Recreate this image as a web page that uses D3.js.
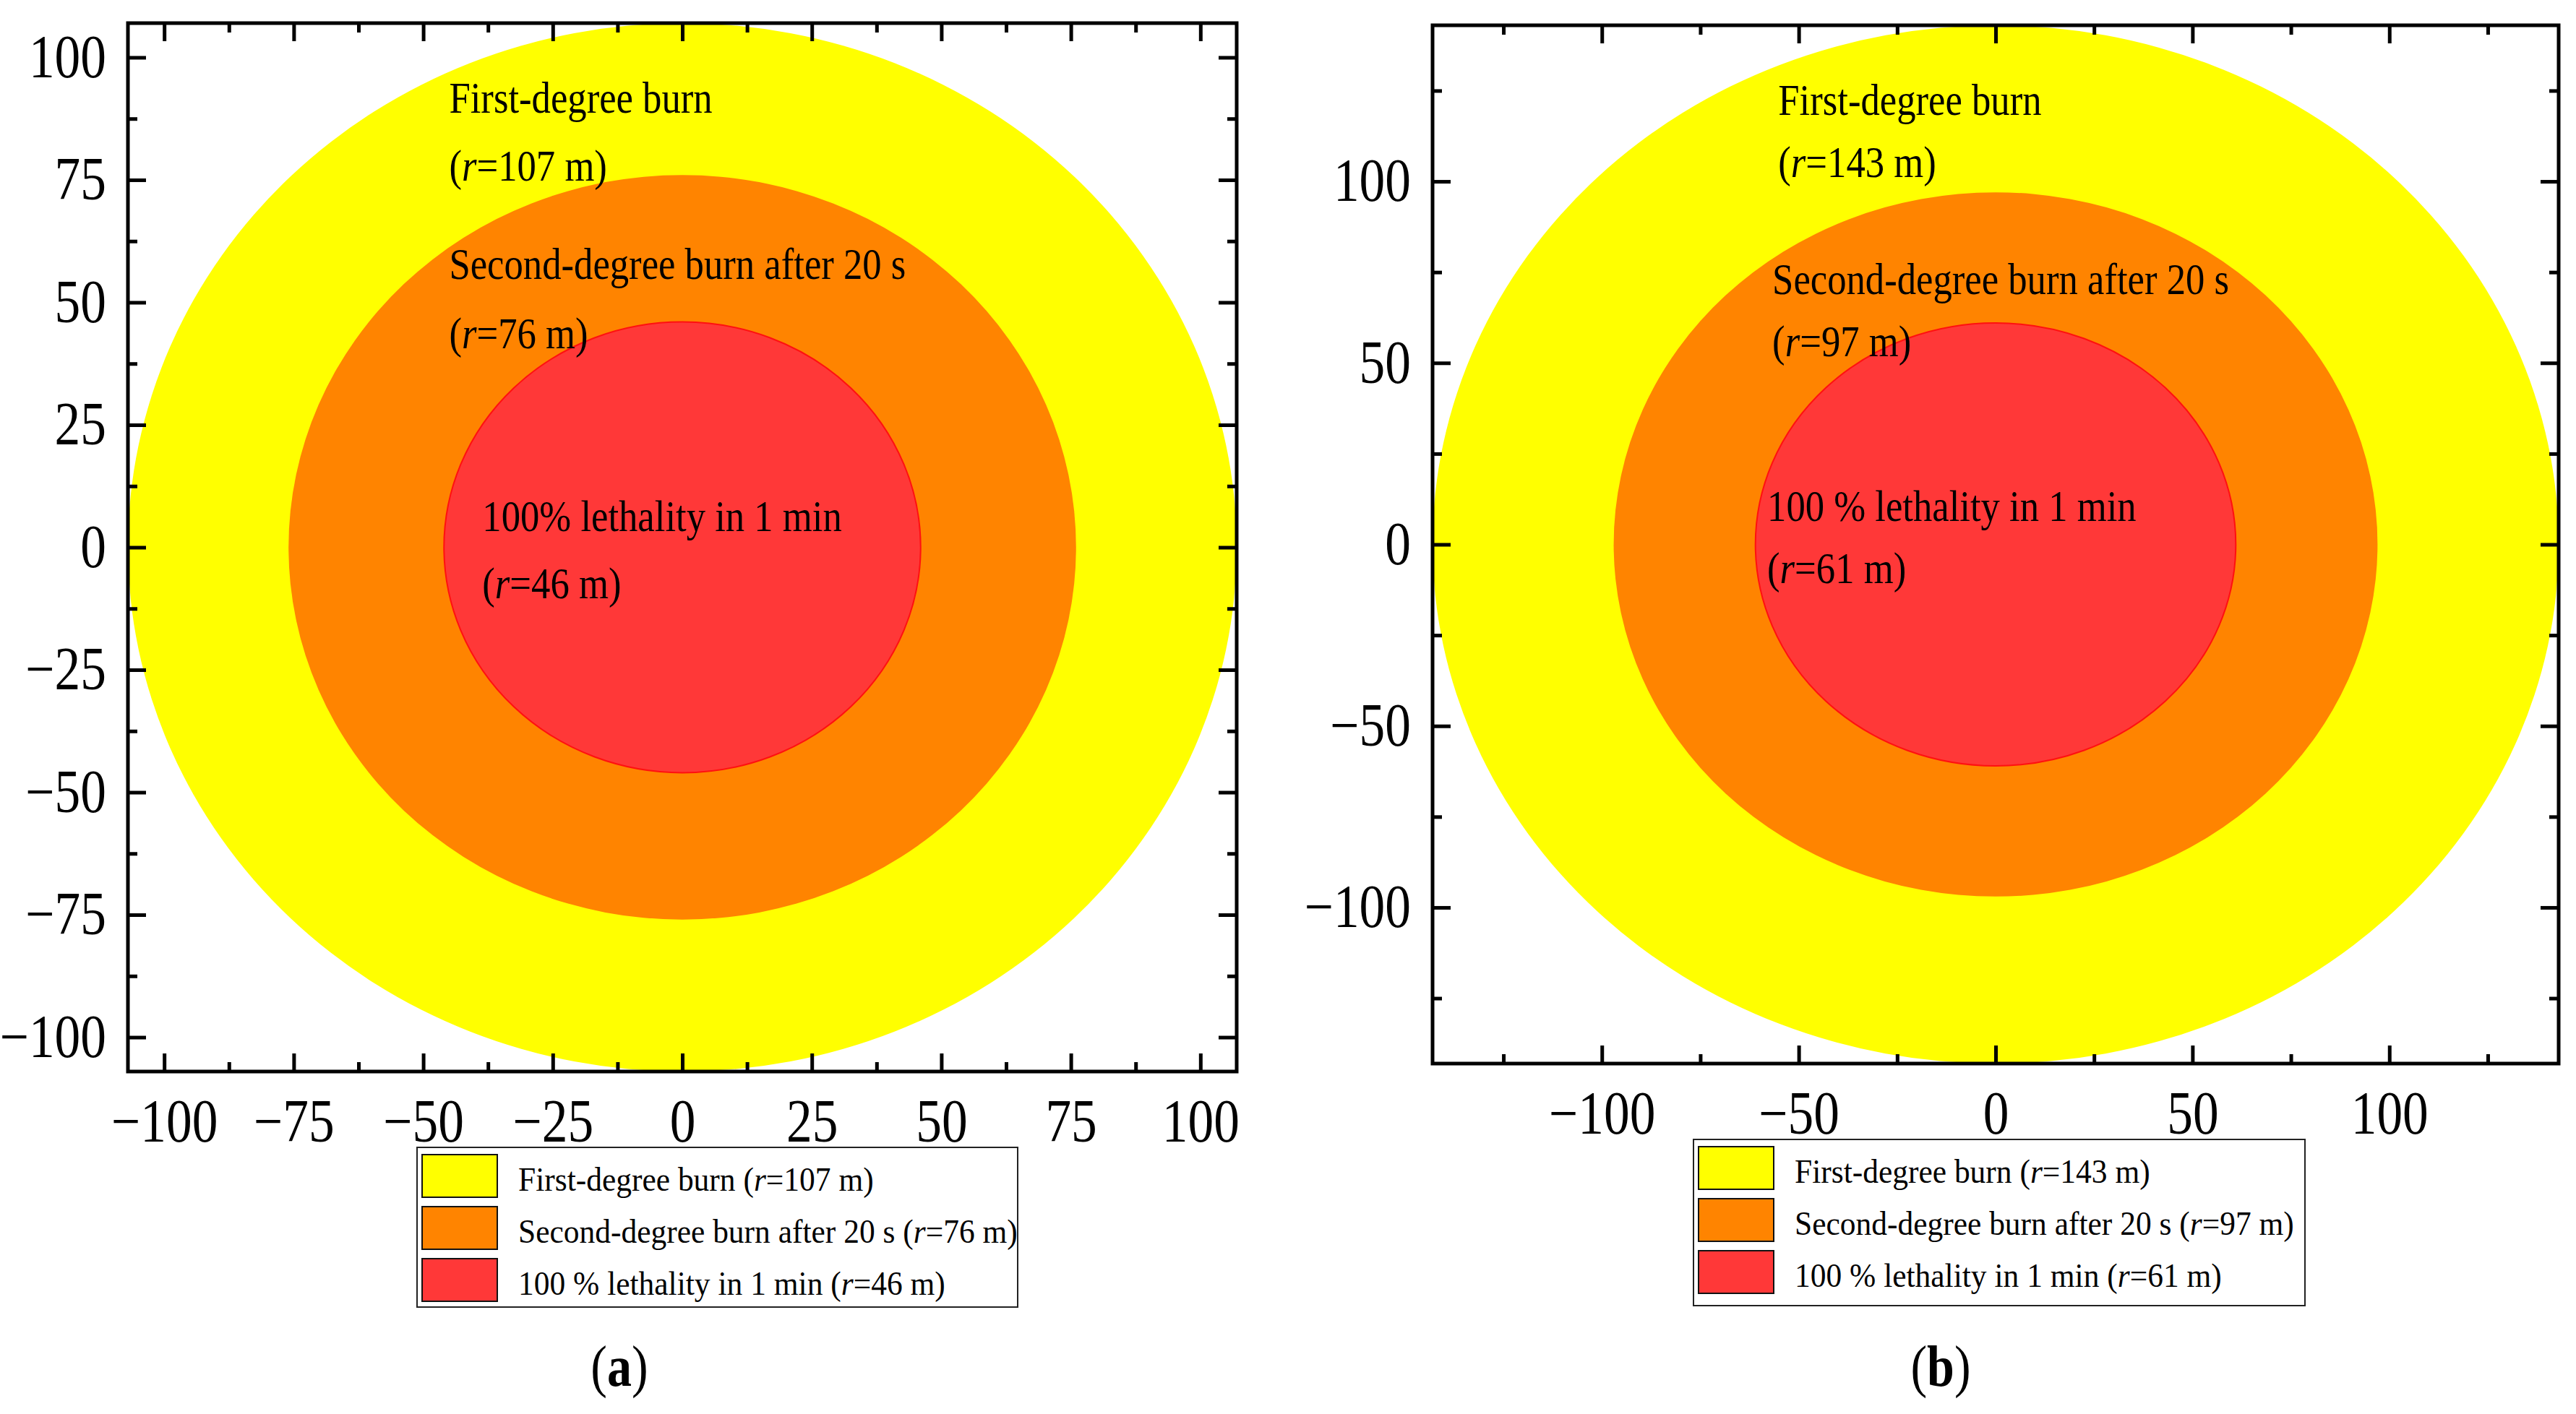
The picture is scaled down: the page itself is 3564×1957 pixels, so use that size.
<!DOCTYPE html>
<html>
<head>
<meta charset="utf-8">
<script src="https://cdn.jsdelivr.net/npm/d3@7"></script>
<style>
  html, body { margin: 0; padding: 0; background: #fff; }
  svg { display: block; }
  text { font-family: "Liberation Serif", "Times New Roman", serif; fill: #000; }
</style>
</head>
<body>
<div id="chart"></div>
<script>
// ---------------------------------------------------------------- data
const zoneNames = ["First-degree burn", "Second-degree burn after 20 s", "100 % lethality in 1 min"];
const zoneColors = ["#ffff00", "#ff8400", "#ff3838"];

const radiiA = [107, 76, 46];
const radiiB = [143, 97, 61];

const extentA = 107;
const extentB = 143;

const majorTicksA = [-100, -75, -50, -25, 0, 25, 50, 75, 100];
const minorTicksA = [-87.5, -62.5, -37.5, -12.5, 12.5, 37.5, 62.5, 87.5];
const majorTicksB = [-100, -50, 0, 50, 100];
const minorTicksB = [-125, -75, -25, 25, 75, 125];

const annotTextA = ["First-degree burn", "Second-degree burn after 20 s", "100% lethality in 1 min"];
const annotTextB = ["First-degree burn", "Second-degree burn after 20 s", "100 % lethality in 1 min"];

// ---------------------------------------------------------------- layout
const W = 3564, H = 1957;
const squeeze = 0.85; // text in the figure is a bit narrow

const panels = [
  {
    radii: radiiA, extent: extentA, major: majorTicksA, minor: minorTicksA, annot: annotTextA,
    box: { left: 177, right: 1711, top: 32, bottom: 1483 },
    // label anchors in data units: [x, y title, y radius line]
    annotPos: [[-45, 88.7, 74.9], [-45, 54.8, 40.6], [-38.6, 3.3, -10.4]],
    legend: { x: 577, y: 1588, w: 831, h: 221 },
    tag: "a", tagX: 857
  },
  {
    radii: radiiB, extent: extentB, major: majorTicksB, minor: minorTicksB, annot: annotTextB,
    box: { left: 1982, right: 3540, top: 35, bottom: 1472 },
    annotPos: [[-55.2, 118.3, 101.2], [-56.7, 69.0, 51.9], [-58, 6.5, -10.6]],
    legend: { x: 2343, y: 1577, w: 846, h: 230 },
    tag: "b", tagX: 2685
  }
];

const svg = d3.select("#chart")
  .append("svg")
  .attr("width", W)
  .attr("height", H);

svg.append("rect").attr("width", W).attr("height", H).attr("fill", "#fff");

// text helper: parts = [[string, italic, bold], ...]
function addText(parent, x, y, parts, size, sx, anchor) {
  const t = parent.append("g")
    .attr("transform", `translate(${x},${y})`)
    .append("text")
    .attr("transform", `scale(${sx},1)`)
    .attr("font-size", size)
    .attr("text-anchor", anchor || "start");
  parts.forEach(([s, it, bold]) => {
    t.append("tspan")
      .attr("font-style", it ? "italic" : "normal")
      .attr("font-weight", bold ? "bold" : "normal")
      .text(s);
  });
  return t;
}

function radiusParts(r) {
  return [["(", false], ["r", true], [`=${r} m)`, false]];
}

function drawPanel(p) {
  const b = p.box;
  const g = svg.append("g");

  const x = d3.scaleLinear().domain([-p.extent, p.extent]).range([b.left, b.right]);
  const y = d3.scaleLinear().domain([-p.extent, p.extent]).range([b.bottom, b.top]);

  // zones, largest first
  const zones = p.radii.map((r, i) => ({ r, color: zoneColors[i], i }));
  g.selectAll("ellipse.zone")
    .data(zones)
    .join("ellipse")
    .attr("class", "zone")
    .attr("cx", x(0))
    .attr("cy", y(0))
    .attr("rx", (d) => x(d.r) - x(0))
    .attr("ry", (d) => y(0) - y(d.r))
    .attr("fill", (d) => d.color)
    .attr("stroke", (d) => (d.i === 2 ? "#ff1010" : "none"))
    .attr("stroke-width", 2);

  // in-plot annotations
  p.annot.forEach((txt, i) => {
    const [ax, ay1, ay2] = p.annotPos[i];
    addText(g, x(ax), y(ay1), [[txt, false]], 62, squeeze);
    addText(g, x(ax), y(ay2), radiusParts(p.radii[i]), 62, squeeze);
  });

  // axes: major + minor ticks pointing inwards on all four sides
  const fmt = d3.format("");
  const axisSpecs = [
    { ax: d3.axisLeft(y), tr: `translate(${b.left},0)`, labels: true, pad: 30 },
    { ax: d3.axisBottom(x), tr: `translate(0,${b.bottom})`, labels: true, pad: 37 },
    { ax: d3.axisRight(y), tr: `translate(${b.right},0)`, labels: false, pad: 0 },
    { ax: d3.axisTop(x), tr: `translate(0,${b.top})`, labels: false, pad: 0 }
  ];

  axisSpecs.forEach((s) => {
    const majG = g.append("g")
      .attr("transform", s.tr)
      .call(s.ax.tickValues(p.major).tickSizeInner(-25).tickSizeOuter(0)
        .tickPadding(s.pad)
        .tickFormat(s.labels ? fmt : ""));
    majG.select(".domain").remove();
    majG.selectAll(".tick line").attr("stroke", "#000").attr("stroke-width", 5);
    majG.selectAll(".tick text").attr("font-size", 84).attr("fill", "#000")
      .attr("font-family", '"Liberation Serif", "Times New Roman", serif');

    const minG = g.append("g")
      .attr("transform", s.tr)
      .call(s.ax.tickValues(p.minor).tickSizeInner(-13).tickSizeOuter(0).tickFormat(""));
    minG.select(".domain").remove();
    minG.selectAll(".tick line").attr("stroke", "#000").attr("stroke-width", 5);
  });

  // squeeze tick label text horizontally
  g.selectAll(".tick text").each(function () {
    const t = d3.select(this);
    const tx = +t.attr("x") || 0;
    t.attr("x", 0).attr("transform", `translate(${tx},0) scale(${squeeze},1)`);
  });

  // frame
  g.append("rect")
    .attr("x", b.left)
    .attr("y", b.top)
    .attr("width", b.right - b.left)
    .attr("height", b.bottom - b.top)
    .attr("fill", "none")
    .attr("stroke", "#000")
    .attr("stroke-width", 5);

  // legend
  const L = p.legend;
  const lg = g.append("g").attr("transform", `translate(${L.x},${L.y})`);
  lg.append("rect")
    .attr("width", L.w)
    .attr("height", L.h)
    .attr("fill", "#fff")
    .attr("stroke", "#222")
    .attr("stroke-width", 2);

  zoneNames.forEach((name, i) => {
    const top = 10 + i * 72;
    lg.append("rect")
      .attr("x", 7)
      .attr("y", top)
      .attr("width", 104)
      .attr("height", 59)
      .attr("fill", zoneColors[i])
      .attr("stroke", "#111")
      .attr("stroke-width", 2);
    addText(lg, 140, top + 50, [[name + " ", false]].concat(radiusParts(p.radii[i])), 47, 0.925);
  });

  // panel tag
  addText(svg, p.tagX, 1918, [["(", false], [p.tag, false, true], [")", false]], 80, squeeze, "middle");
}

panels.forEach(drawPanel);
</script>
</body>
</html>
